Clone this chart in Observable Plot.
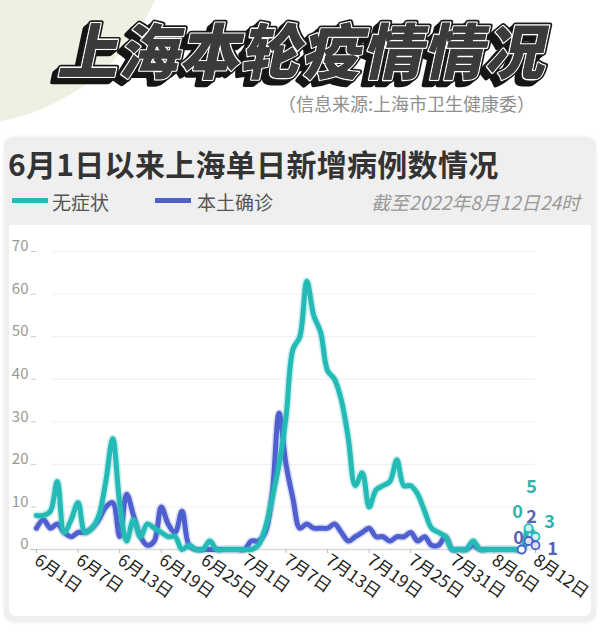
<!DOCTYPE html>
<html>
<head>
<meta charset="utf-8">
<script src="https://cdn.jsdelivr.net/npm/d3@7"></script>
<script src="https://cdn.jsdelivr.net/npm/@observablehq/plot@0.6"></script>
<style>
  html, body { margin: 0; padding: 0; }
  body { width: 600px; height: 632px; position: relative; overflow: hidden; background: #fff;
         font-family: "Noto Sans CJK SC", "Noto Sans", sans-serif; }
  .blob { position: absolute; left: -255px; top: -305px; width: 430px; height: 430px; border-radius: 50%; background: #eef0e2; }
  #title { position: absolute; left: 0; top: 0; }
  .sub { position: absolute; right: 65px; top: 90px; font-size: 18px; color: #8e8e8e; white-space: nowrap; }
  .panel { position: absolute; left: 4px; top: 137px; width: 592px; height: 485px; background: #efefef;
           border-radius: 10px; box-shadow: 0 0 4px rgba(0,0,0,0.08); }
  .inner { position: absolute; left: 9px; top: 225px; width: 582px; height: 391px; background: #fff; border-radius: 0 0 7px 7px; }
  .ptitle { position: absolute; left: 8px; top: 141px; font-size: 30px; font-weight: 700; color: #333; white-space: nowrap; letter-spacing: 0.3px; }
  .lg-bar { position: absolute; top: 198px; width: 36px; height: 5px; }
  .lg-txt { position: absolute; top: 188px; font-size: 19px; color: #555; white-space: nowrap; }
  .asof { position: absolute; right: 20px; top: 188px; font-size: 19px; font-style: italic; color: #9a9a9a; white-space: nowrap; }
  #chart { position: absolute; left: 0; top: 225px; }
</style>
</head>
<body>
<div class="blob"></div>
<svg id="title" width="600" height="100"></svg>
<div class="sub" id="sub"></div>
<div class="panel"></div>
<div class="inner"></div>
<div class="ptitle" id="ptitle"></div>
<div class="lg-bar" id="bar0" style="left:12px"></div>
<div class="lg-txt" id="lg0" style="left:52px"></div>
<div class="lg-bar" id="bar1" style="left:155px"></div>
<div class="lg-txt" id="lg1" style="left:197px"></div>
<div class="asof" id="asof"></div>
<div id="chart"></div>
<script>
// ---------- data ----------
const mainTitle = "上海本轮疫情情况";
const sourceNote = "（信息来源:上海市卫生健康委）";
const panelTitle = "6月1日以来上海单日新增病例数情况";
const seriesNames = ["无症状", "本土确诊"];
const asOfNote = "截至2022年8月12日24时";
const startDate = "2022-06-01";
// daily values, 6/1 ... 8/12
const asymptomatic = [
  8, 8, 9, 16, 4, 7, 11, 4, 5, 8, 16, 26, 11, 2, 7, 3, 6, 5, 4, 3, 3, 0, 1, 0, 0, 2, 0, 0, 0, 0,
  0, 0, 1, 5, 12, 20, 31, 47, 50, 63, 55, 51, 42, 40, 35, 26, 15, 18, 10, 14, 15, 16, 21, 15, 15, 13, 9, 5, 4, 3,
  0, 0, 0, 2, 0, 0, 0, 0, 0, 0, 0, 5, 3
];
const confirmed = [
  5, 7, 5, 6, 4, 3, 4, 4, 5, 7, 10, 11, 3, 13, 8, 3, 1, 2, 10, 6, 4, 9, 1, 0, 0, 0, 0, 0, 0, 0,
  0, 2, 2, 4, 13, 32, 20, 12, 5, 6, 5, 5, 5, 6, 4, 2, 3, 4, 5, 3, 3, 2, 3, 3, 4, 2, 3, 1, 1, 3,
  0, 0, 0, 1, 0, 0, 0, 0, 0, 0, 0, 2, 1
];
const labeledDays = [70, 71, 72];           // last days marked with value labels
const tickLabels = ["6月1日","6月7日","6月13日","6月19日","6月25日","7月1日","7月7日",
                    "7月13日","7月19日","7月25日","7月31日","8月6日","8月12日"];
const yTicks = [0, 10, 20, 30, 40, 50, 60, 70];

// ---------- style ----------
const TEAL = "#24bab6", BLUE = "#4f5fcf";
const TEAL_TXT = "#34b1ac", BLUE_TXT = "#5a62b6";
const FONT = '"Noto Sans CJK SC", "Noto Sans", sans-serif';

// ---------- header ----------
document.getElementById("sub").textContent = sourceNote;
document.getElementById("ptitle").textContent = panelTitle;
document.getElementById("lg0").textContent = seriesNames[0];
document.getElementById("lg1").textContent = seriesNames[1];
document.getElementById("bar0").style.background = TEAL;
document.getElementById("bar1").style.background = BLUE;
document.getElementById("asof").textContent = asOfNote;

(function drawTitle() {
  const svg = d3.select("#title");
  const g = svg.append("g").attr("transform", "translate(301,74)");
  const base = sel => sel.attr("text-anchor", "middle")
      .attr("font-family", FONT).attr("font-size", 60).attr("font-weight", 900)
      .attr("letter-spacing", 1).attr("transform", "skewX(-12)").text(mainTitle);
  // extrusion shadow
  for (let k = 5; k >= 1; k--) {
    g.append("text").call(base).attr("x", -k).attr("y", k)
      .attr("fill", "#161616").attr("stroke", "#161616").attr("stroke-width", 5).attr("stroke-linejoin", "round");
  }
  g.append("text").call(base).attr("fill", "none").attr("stroke", "#1b1b1b").attr("stroke-width", 6).attr("stroke-linejoin", "round");
  g.append("text").call(base).attr("fill", "#3a3a3a").attr("stroke", "#ffffff").attr("stroke-width", 2.6)
    .attr("stroke-linejoin", "round").attr("paint-order", "stroke");
  g.append("text").call(base).attr("fill", "#3b3b3b");
})();

// ---------- chart ----------
const t0 = d3.utcParse("%Y-%m-%d")(startDate);
const rows = asymptomatic.map((v, i) => ({
  date: d3.utcDay.offset(t0, i), asym: v, conf: confirmed[i], i
}));
const tickDates = tickLabels.map((_, k) => d3.utcDay.offset(t0, k * 6));
const labelOf = new Map(tickDates.map((d, k) => [+d, tickLabels[k]]));
const lastRows = rows.filter(r => labeledDays.includes(r.i));

const tealOffsets = [[-4, -37], [3, -41], [14, -14]];
const blueOffsets = [[-3, -11], [3, -24], [17, 4]];

const labelMarks = [];
lastRows.forEach((r, k) => {
  labelMarks.push(Plot.text([r], {x: "date", y: "asym", text: d => String(d.asym), dx: tealOffsets[k][0], dy: tealOffsets[k][1],
    fill: TEAL_TXT, fontSize: 18, fontWeight: 600}));
  labelMarks.push(Plot.text([r], {x: "date", y: "conf", text: d => String(d.conf), dx: blueOffsets[k][0], dy: blueOffsets[k][1],
    fill: BLUE_TXT, fontSize: 18, fontWeight: 600}));
});

const chart = Plot.plot({
  width: 600, height: 395,
  marginTop: 26, marginBottom: 71, marginLeft: 36, marginRight: 65,
  style: {background: "transparent", fontFamily: FONT, overflow: "visible"},
  x: {type: "utc", domain: [rows[0].date, rows[rows.length - 1].date]},
  y: {domain: [0, 70]},
  marks: [
    Plot.gridY(yTicks, {stroke: "#efefef", strokeOpacity: 1, insetLeft: 16}),
    Plot.ruleY([0], {stroke: "#d9d9d9", strokeWidth: 1.5, insetLeft: -6, insetRight: -6}),
    Plot.axisY({ticks: yTicks, tickSize: 5, tickFormat: () => "", stroke: "#c8c8c8", label: null}),
    Plot.axisY({ticks: yTicks, tickSize: 5, tickPadding: 3, stroke: "none", fill: "#999", fontSize: 15, dy: -5, label: null}),
    Plot.axisX({ticks: tickDates, tickFormat: d => labelOf.get(+d), tickRotate: 35, textAnchor: "start",
                tickSize: 4, tickPadding: 5, stroke: "#bbb", fill: "#1c1c1c", fontSize: 17, label: null}),
    Plot.lineY(rows, {x: "date", y: "conf", curve: "catmull-rom", stroke: BLUE, strokeWidth: 8, strokeOpacity: 0.22}),
    Plot.lineY(rows, {x: "date", y: "conf", curve: "catmull-rom", stroke: BLUE, strokeWidth: 5}),
    Plot.lineY(rows, {x: "date", y: "asym", curve: "catmull-rom", stroke: TEAL, strokeWidth: 8, strokeOpacity: 0.25}),
    Plot.lineY(rows, {x: "date", y: "asym", curve: "catmull-rom", stroke: TEAL, strokeWidth: 5}),
    Plot.dot(lastRows, {x: "date", y: "asym", r: 4, stroke: TEAL, strokeWidth: 1.8, fill: "#fff", fillOpacity: 0.8}),
    Plot.dot(lastRows, {x: "date", y: "conf", r: 4, stroke: BLUE, strokeWidth: 1.8, fill: "#fff", fillOpacity: 0.8}),
    ...labelMarks
  ]
});
document.getElementById("chart").appendChild(chart);
</script>
</body>
</html>
